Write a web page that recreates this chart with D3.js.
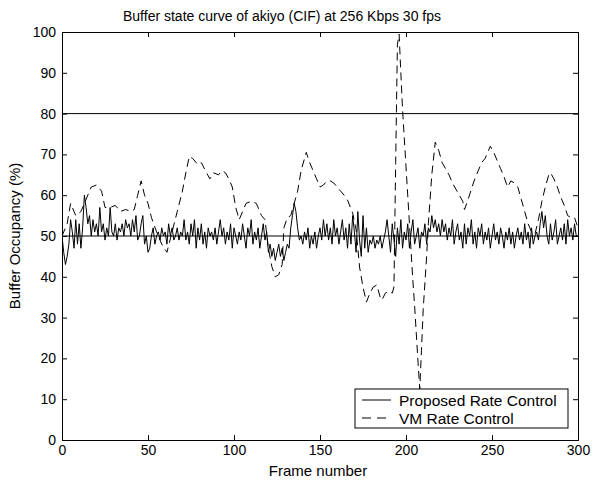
<!DOCTYPE html>
<html><head><meta charset="utf-8">
<script src="https://cdn.jsdelivr.net/npm/d3@7/dist/d3.min.js"></script>
<style>body{margin:0;background:#fff}svg{display:block}text{font-family:"Liberation Sans",Arial,sans-serif;fill:#000}</style>
</head><body><svg id="c" width="593" height="481"></svg>
<script>
const title = "Buffer state curve of akiyo (CIF) at 256 Kbps 30 fps";
const xLabel = "Frame number";
const yLabel = "Buffer Occupancy (%)";
const seriesNames = ["Proposed Rate Control", "VM Rate Control"];
const xTicks = [0, 50, 100, 150, 200, 250, 300];
const yTicks = [0, 10, 20, 30, 40, 50, 60, 70, 80, 90, 100];
const refLines = [50, 80];

// Proposed rate control: buffer occupancy per frame (0..300)
const proposed = [
 50,46,43,45,48,54,51,47,54,48,
 53,47,52,60,57,53,55,50,54,51,
 53,50,57,51,53,49,52,50,57,51,
 50,53,49,52,51,53,50,54,52,53,
 50,54,51,55,49,50,53,55,48,50,
 46,47,50,52,48,50,51,49,52,50,
 51,48,53,50,52,49,50,52,49,51,
 50,54,49,51,48,53,50,54,47,52,
 49,53,48,51,47,52,50,51,49,52,
 48,51,54,50,52,48,51,49,53,47,
 52,50,48,51,49,53,50,47,52,50,
 54,48,51,49,52,47,50,53,49,51,
 46,48,45,47,44,46,48,45,47,44,
 46,48,47,52,55,58,56,52,49,50,
 48,51,49,52,47,50,48,51,47,50,
 52,49,54,50,53,49,52,48,54,50,
 52,48,51,54,49,52,47,53,48,55,
 51,46,56,49,45,55,47,52,46,49,
 48,50,47,49,48,50,47,49,51,54,
 50,46,53,49,45,52,48,54,47,51,
 49,53,47,51,54,48,50,52,47,51,
 50,53,48,52,51,55,52,54,51,53,
 50,54,51,53,49,52,50,54,48,51,
 53,49,51,47,53,48,52,50,54,48,
 51,47,52,50,53,48,51,49,52,47,
 50,53,49,51,48,52,50,47,51,49,
 52,48,51,47,50,52,49,51,48,53,
 49,51,47,52,48,50,51,49,53,56,
 52,55,50,48,53,49,51,54,48,50,
 52,49,53,48,54,50,52,49,53,50,
 50
];
const proposedFrames = proposed.map((_, i) => i);

// VM rate control: frame numbers and occupancy
const vmFrames = [0,3,5,8,11,14,17,20,23,25,28,31,34,37,40,42,44,46,48,50,52,55,58,61,64,67,70,72,74,76,79,81,84,86,88,91,93,95,97,99,101,103,105,107,110,113,116,118,120,122,124,126,128,129,131,133,135,137,139,141,142,144,146,148,150,152,154,156,158,160,162,164,166,169,171,173,175,177,179,181,183,185,186,188,190,192,193,194,195,196,197,198,199,200,201,202,203,204,205,206,207,208,209,210,212,213,215,217,219,221,223,225,227,229,231,233,234,236,238,240,242,244,246,248,249,251,253,255,257,259,261,263,265,267,269,271,273,275,277,279,281,283,284,286,288,290,292,294,296,298,300];
const vmValues = [50,53,58,55,56,59,62,62.5,61,57,57,57.5,56,56.5,56,56.5,60,63.5,60,58,54.5,51,48,46,51,56,61,65.5,69.5,69,67.5,68,65.5,64,65.5,65,66,65.5,64,62,57,54,56,58,58.5,58,55,54,47,42.5,40,40.5,43,52,54.5,55,58,61,66,69,70.5,68,66,64,62,62.5,63.5,63.5,63,62,61,60,58.8,55.6,51.5,42.4,37.5,33.8,36,37.5,38,35,34.3,36,36.5,36,37.5,68,97,99.5,90,81,74,67,60,53,46,39,33,26,19,12.5,22,32,45,53,65,73,71,68,66.5,65,63,61.5,60,58.5,56.5,58.8,61.5,64,66,68,69,71,72,70.5,68.5,66.5,64.5,62,63.5,63,62,59,56,53,51,50.5,54,58.5,62,65,65.5,64,62,59.5,57.5,55,54.5,54.5,52];

const svg = d3.select("#c");
const L = 62, R = 578, T = 32, B = 440;
const x = d3.scaleLinear().domain([0, 300]).range([L, R]);
const y = d3.scaleLinear().domain([0, 100]).range([B, T]);

svg.append("clipPath").attr("id","clp").append("rect")
  .attr("x", L).attr("y", T).attr("width", R-L).attr("height", B-T);

// reference lines
svg.selectAll("line.ref").data(refLines).join("line").attr("class","ref")
  .attr("x1", L).attr("x2", R).attr("y1", d=>y(d)).attr("y2", d=>y(d))
  .attr("stroke","#000").attr("stroke-width",1);

const line = d3.line().x(d=>x(d[0])).y(d=>y(d[1]));
const g = svg.append("g").attr("clip-path","url(#clp)");
g.append("path").datum(vmFrames.map((f,i)=>[f, vmValues[i]]))
  .attr("d", line).attr("fill","none").attr("stroke","#000").attr("stroke-width",1)
  .attr("stroke-dasharray","8,5");
g.append("path").datum(proposedFrames.map((f,i)=>[f, proposed[i]]))
  .attr("d", line).attr("fill","none").attr("stroke","#000").attr("stroke-width",1);

// axes
const fs = 14;
const xb = svg.append("g").attr("transform",`translate(0,${B})`)
  .call(d3.axisBottom(x).tickValues(xTicks).tickSize(-5).tickPadding(5).tickFormat(d3.format("d")));
const xt = svg.append("g").attr("transform",`translate(0,${T})`)
  .call(d3.axisTop(x).tickValues(xTicks).tickSize(-5).tickFormat(""));
const yl = svg.append("g").attr("transform",`translate(${L},0)`)
  .call(d3.axisLeft(y).tickValues(yTicks).tickSize(-5).tickPadding(6).tickFormat(d3.format("d")));
const yr = svg.append("g").attr("transform",`translate(${R},0)`)
  .call(d3.axisRight(y).tickValues(yTicks).tickSize(-5).tickFormat(""));
[xb,xt,yl,yr].forEach(a=>{
  a.selectAll("path.domain").attr("stroke","#000").attr("stroke-width",1);
  a.selectAll(".tick line").attr("stroke","#000");
  a.selectAll("text").style("font-family",'"Liberation Sans",Arial,sans-serif').style("font-size",fs+"px").attr("fill","#000");
});
xb.selectAll("text").attr("dy","0.71em");

svg.append("text").attr("x",(L+R)/2 - 38).attr("y",21).attr("text-anchor","middle")
  .style("font-size","14px").text(title);
svg.append("text").attr("x",(L+R)/2 - 2).attr("y",476).attr("text-anchor","middle")
  .style("font-size","15px").text(xLabel);
svg.append("text").attr("transform",`translate(20,${(T+B)/2}) rotate(-90)`).attr("text-anchor","middle")
  .style("font-size","15px").text(yLabel);

// legend
const lg = svg.append("g");
lg.append("rect").attr("x",355).attr("y",389).attr("width",213).attr("height",39)
  .attr("fill","#fff").attr("stroke","#000").attr("stroke-width",1);
const ly = [400, 418];
seriesNames.forEach((n,i)=>{
  lg.append("line").attr("x1",362).attr("x2",391).attr("y1",ly[i]).attr("y2",ly[i])
    .attr("stroke","#000").attr("stroke-width",1).attr("stroke-dasharray", i===1 ? "9,6" : null);
  lg.append("text").attr("x",399).attr("y",ly[i]).attr("dy","0.36em")
    .style("font-size","15.5px").text(n);
});
</script></body></html>
